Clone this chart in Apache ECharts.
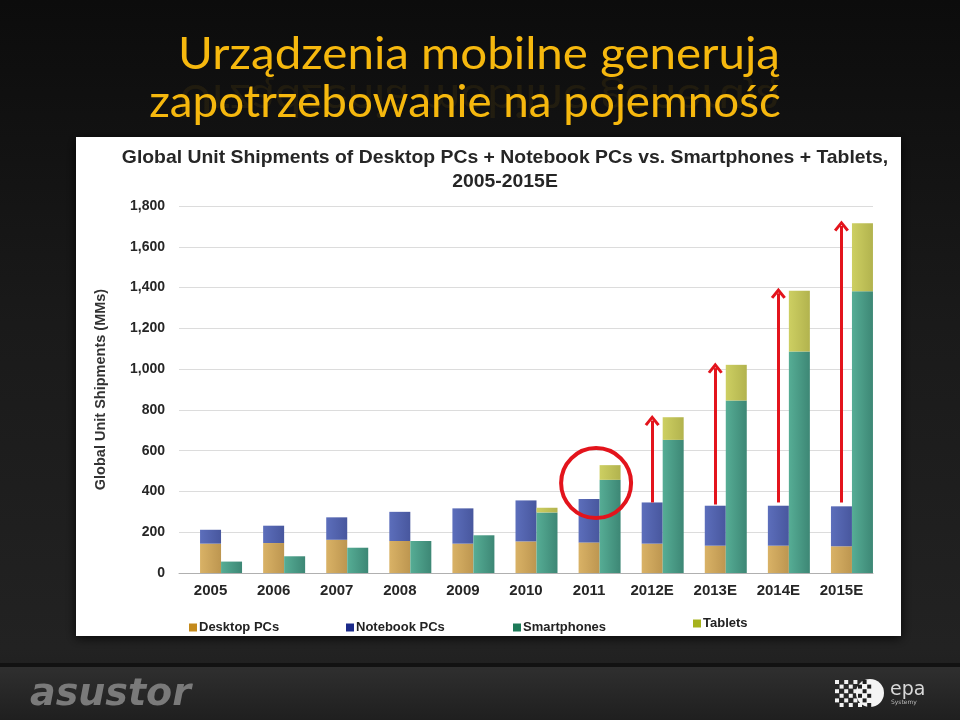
<!DOCTYPE html>
<html lang="pl">
<head>
    <meta charset="UTF-8">
    <title>Urządzenia mobilne</title>
    <script src="https://cdn.jsdelivr.net/npm/echarts@6.0.0/dist/echarts.min.js"></script>
    <style>
        html, body { margin: 0; padding: 0; background: #111; }
    </style>
</head>
<body>
    <div id="chart" style="width: 960px; height: 720px;"></div>
    <script>
        // dane (mln sztuk)
        const years = ['2005', '2006', '2007', '2008', '2009', '2010', '2011', '2012E', '2013E', '2014E', '2015E'];
        const desktop = [144, 147, 163, 157, 144, 155, 150, 144, 134, 134, 131];
        const notebook = [68, 85, 110, 143, 173, 201, 213, 202, 196, 196, 196];
        const smartphones = [56, 82, 124, 157, 185, 297, 457, 653, 846, 1086, 1382];
        const tablets = [0, 0, 0, 0, 0, 23, 72, 111, 175, 298, 333];

        // czerwone strzałki i kółko
        const arrowYears = ['2012E', '2013E', '2014E', '2015E'];
        const arrowFrom = [346, 336, 346, 346];
        const arrowTo = [748, 1005, 1372, 1702];
        const circleYear = '2011';
        const circleValue = 441;

        const font = '"Liberation Sans", Arial, sans-serif';
        const titleFont = '44px Lato, "Open Sans", sans-serif';
        const red = '#E3141C';

        function grad(c1, c2) {
            return {
                type: 'linear', x: 0, y: 0, x2: 1, y2: 0,
                colorStops: [{ offset: 0, color: c1 }, { offset: 1, color: c2 }]
            };
        }

        function legendItem(name, color, left, top) {
            return {
                data: [{ name: name, itemStyle: { color: color } }],
                left: left,
                top: top,
                icon: 'rect',
                itemWidth: 8,
                itemHeight: 8,
                padding: 0,
                selectedMode: false,
                textStyle: { fontFamily: font, fontWeight: 'bold', fontSize: 13, color: '#222', padding: [0, 0, 0, -3] }
            };
        }

        const chevron = 'path://M5,0 L10,8.5 L8.4,10 L5,4.2 L1.6,10 L0,8.5 Z';

        let arrowData = [];
        for (let i = 0; i < arrowYears.length; i++) {
            arrowData.push([{ coord: [arrowYears[i], arrowFrom[i]] }, { coord: [arrowYears[i], arrowTo[i]] }]);
        }

        // kratka logo epa
        let checker = [];
        for (let r = 0; r < 6; r++) {
            for (let c = 0; c < 8; c++) {
                if ((r + c) % 2 === 0) {
                    const x = 835 + c * 4.6, y = 680 + r * 4.6;
                    const dx = x + 2 - 870, dy = y + 2 - 693;
                    const inside = dx * dx + dy * dy < 14 * 14;
                    if (c > 5 && !inside) continue;
                    checker.push({
                        type: 'rect', z: 3,
                        shape: { x: x, y: y, width: 4, height: 4 },
                        style: { fill: inside ? '#1e1e1e' : '#f2f2f2' }
                    });
                }
            }
        }

        const myChart = echarts.init(document.getElementById('chart'));

        let option = {
            animation: false,
            backgroundColor: {
                type: 'linear', x: 0, y: 0, x2: 0, y2: 1,
                colorStops: [
                    { offset: 0, color: '#0c0c0c' },
                    { offset: 0.45, color: '#1a1a1a' },
                    { offset: 0.9, color: '#222' },
                    { offset: 1, color: '#1c1c1c' }
                ]
            },
            grid: { left: 179, right: 87, top: 206, bottom: 147 },
            legend: [
                legendItem('Desktop PCs', '#C48A1C', 189, 621),
                legendItem('Notebook PCs', '#1B2A8A', 346, 621),
                legendItem('Smartphones', '#1D7A58', 513, 621),
                legendItem('Tablets', '#A6B21C', 693, 617)
            ],
            xAxis: {
                type: 'category',
                data: years,
                axisLine: { lineStyle: { color: '#b0b0b0', width: 1 } },
                axisTick: { lineStyle: { color: '#b0b0b0' }, length: 5 },
                axisLabel: { fontFamily: font, fontWeight: 'bold', fontSize: 15, color: '#262626', margin: 10 }
            },
            yAxis: {
                type: 'value',
                min: 0,
                max: 1800,
                interval: 200,
                name: 'Global Unit Shipments (MMs)',
                nameLocation: 'middle',
                nameRotate: 90,
                nameGap: 71,
                nameTextStyle: { fontFamily: font, fontWeight: 'bold', fontSize: 14.5, color: '#333' },
                axisLine: { show: false },
                axisTick: { show: false },
                axisLabel: {
                    fontFamily: font, fontWeight: 'bold', fontSize: 14, color: '#262626', margin: 14,
                    formatter: v => v.toLocaleString('en-US')
                },
                splitLine: { lineStyle: { color: '#dcdcdc', width: 1 } }
            },
            series: [
                { name: 'pad', type: 'bar', stack: 'pad', barWidth: 21, barGap: '0%', data: [], silent: true },
                {
                    name: 'Desktop PCs', type: 'bar', stack: 'pc', barWidth: 21, barGap: '0%',
                    itemStyle: { color: grad('#D9B266', '#BD9650') },
                    data: desktop
                },
                {
                    name: 'Notebook PCs', type: 'bar', stack: 'pc', barWidth: 21, barGap: '0%',
                    itemStyle: { color: grad('#5C6EBB', '#48579E') },
                    data: notebook,
                    markLine: {
                        silent: true,
                        symbol: ['none', chevron],
                        symbolSize: [15, 11],
                        label: { show: false },
                        lineStyle: { color: red, width: 3, type: 'solid' },
                        data: arrowData
                    }
                },
                {
                    name: 'Smartphones', type: 'bar', stack: 'mob', barWidth: 21, barGap: '0%',
                    itemStyle: { color: grad('#56AD95', '#3D8775') },
                    data: smartphones,
                    markPoint: {
                        silent: true,
                        symbol: 'circle',
                        symbolSize: 70,
                        symbolOffset: [-14, 0],
                        label: { show: false },
                        itemStyle: { color: 'rgba(0,0,0,0)', borderColor: red, borderWidth: 4 },
                        data: [{ coord: [circleYear, circleValue] }]
                    }
                },
                {
                    name: 'Tablets', type: 'bar', stack: 'mob', barWidth: 21, barGap: '0%',
                    itemStyle: { color: grad('#CDCF62', '#B2B34E') },
                    data: tablets
                }
            ],
            graphic: [
                // dolny pasek
                {
                    type: 'rect', z: -2,
                    shape: { x: 0, y: 667, width: 960, height: 53 },
                    style: {
                        fill: {
                            type: 'linear', x: 0, y: 0, x2: 0, y2: 1,
                            colorStops: [{ offset: 0, color: '#2f2f2f' }, { offset: 1, color: '#1f1f1f' }]
                        }
                    }
                },
                { type: 'rect', z: -2, shape: { x: 0, y: 663, width: 960, height: 4 }, style: { fill: '#121212' } },
                // biały panel
                {
                    type: 'rect', z: -1,
                    shape: { x: 76, y: 137, width: 825, height: 499 },
                    style: { fill: '#ffffff', shadowBlur: 10, shadowColor: 'rgba(0,0,0,0.8)', shadowOffsetY: 2 }
                },
                // tytuł slajdu
                {
                    type: 'text', z: 5, x: 479, y: 77, scaleY: -1, scaleX: 1.08,
                    style: {
                        text: 'Urządzenia mobilne generują', fill: '#F6B80E', opacity: 0.08,
                        font: titleFont, align: 'center', verticalAlign: 'bottom'
                    }
                },
                {
                    type: 'text', z: 6, x: 479, y: 77, scaleX: 1.08,
                    style: {
                        text: 'Urządzenia mobilne generują', fill: '#F6B80E',
                        font: titleFont, align: 'center', verticalAlign: 'bottom'
                    }
                },
                {
                    type: 'text', z: 6, x: 465, y: 125, scaleX: 1.04,
                    style: {
                        text: 'zapotrzebowanie na pojemność', fill: '#F6B80E',
                        font: titleFont, align: 'center', verticalAlign: 'bottom'
                    }
                },
                // tytuł wykresu
                {
                    type: 'text', z: 6, x: 505, y: 170, scaleX: 1.02,
                    style: {
                        text: 'Global Unit Shipments of Desktop PCs + Notebook PCs vs. Smartphones + Tablets,\n2005-2015E',
                        fill: '#262626', font: 'bold 19px ' + font, align: 'center', verticalAlign: 'middle', lineHeight: 24
                    }
                },
                // logo asustor
                {
                    type: 'text', z: 6, x: 30, y: 695,
                    style: {
                        text: 'asustor', font: 'italic bold 38px "DejaVu Sans", sans-serif',
                        verticalAlign: 'middle', fill: '#7a7a7a'
                    }
                },
                // logo epa
                { type: 'circle', z: 2, shape: { cx: 870, cy: 693, r: 14 }, style: { fill: '#f4f4f4' } },
                ...checker,
                {
                    type: 'text', z: 6, x: 890, y: 690,
                    style: { text: 'epa', font: '19px "DejaVu Sans", sans-serif', fill: '#d8d8d8', verticalAlign: 'middle' }
                },
                {
                    type: 'text', z: 6, x: 891, y: 702,
                    style: { text: 'Systemy', font: '6px "DejaVu Sans", sans-serif', fill: '#bbbbbb', verticalAlign: 'middle' }
                }
            ]
        };

        myChart.setOption(option);
    </script>
</body>
</html>
